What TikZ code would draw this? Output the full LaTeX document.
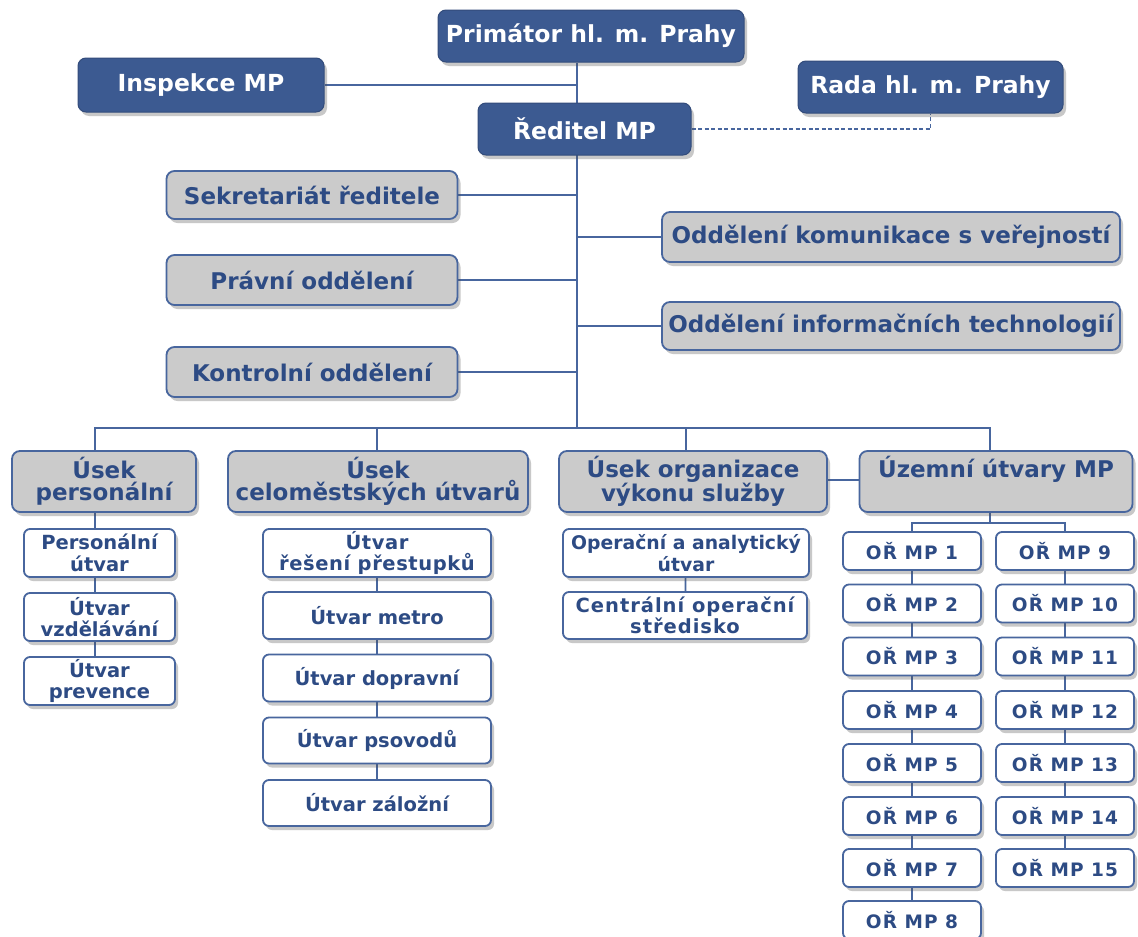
\documentclass[tikz,border=0pt]{standalone}
\usepackage{fontspec}
\setmainfont{DejaVu Sans}
\usetikzlibrary{shadows,backgrounds}
\definecolor{dblue}{RGB}{60,90,145}
\definecolor{tblue}{RGB}{45,75,132}
\definecolor{lgray}{RGB}{203,203,203}
\definecolor{lblue}{RGB}{72,102,158}
\begin{document}
\begin{tikzpicture}[x=1pt,y=-1pt,
  base/.style={rounded corners=8pt, inner sep=0pt, align=center,
    drop shadow={shadow xshift=3pt, shadow yshift=-4pt, opacity=0.3, fill=black!70}},
  topbox/.style={base, fill=dblue, draw=dblue!85!black, line width=1pt, text=white,
    font=\bfseries\fontsize{23.5}{26}\selectfont},
  graybox/.style={base, fill=lgray, draw=lblue, line width=1.8pt, text=tblue,
    font=\bfseries\fontsize{23}{22}\selectfont},
  whitebox/.style={base, rounded corners=6pt, fill=white, draw=lblue, line width=1.8pt, text=tblue,
    font=\bfseries\fontsize{19.5}{21.5}\selectfont},
  wide/.style={font=\bfseries\fontsize{19.5}{21.5}\selectfont\addfontfeatures{LetterSpace=#1}},
  orbox/.style={whitebox, minimum width=138, minimum height=38,
    font=\bfseries\fontsize{18.5}{21}\selectfont\addfontfeatures{LetterSpace=6}},
  conn/.style={draw=lblue, line width=1.7pt},
]
\useasboundingbox (0,0) rectangle (1138,937);

% top level
\node[topbox, minimum width=306, minimum height=52] (prim) at (591,36) {Primátor hl. m. Prahy};
\node[topbox, minimum width=246, minimum height=54] (insp) at (201,85) {Inspekce MP};
\node[topbox, minimum width=213, minimum height=52] (red) at (584.5,129) {Ředitel MP};
\node[topbox, minimum width=265, minimum height=52] (rada) at (930.5,87) {Rada hl. m. Prahy};

% staff departments
\node[graybox, minimum width=291, minimum height=48] (sek) at (312,195) {Sekretariát ředitele};
\node[graybox, minimum width=291, minimum height=50] (prav) at (312,280) {Právní oddělení};
\node[graybox, minimum width=291, minimum height=50] (kont) at (312,372) {Kontrolní oddělení};
\node[graybox, minimum width=458, minimum height=50] (kom) at (891,237) {Oddělení komunikace s veřejností};
\node[graybox, minimum width=458, minimum height=48] (inf) at (891,326) {Oddělení informačních technologií};

% sections
\node[graybox, minimum width=184, minimum height=61] (up) at (104,481.5) {Úsek\\personální};
\node[graybox, minimum width=300, minimum height=61] (uc) at (378,481.5) {Úsek\\celoměstských útvarů};
\node[graybox, minimum width=268, minimum height=61] (uo) at (693,481.5) {Úsek organizace\\výkonu služby};
\node[graybox, minimum width=273, minimum height=61] (uz) at (996,481.5) {Územní útvary MP\\\strut};

% children of personal section
\node[whitebox, minimum width=151, minimum height=48] (p1) at (99.5,553) {Personální\\útvar};
\node[whitebox, minimum width=151, minimum height=48] (p2) at (99.5,617) {Útvar\\vzdělávání};
\node[whitebox, minimum width=151, minimum height=48] (p3) at (99.5,681) {Útvar\\prevence};

% children of city-wide section
\node[whitebox, wide=3, minimum width=228, minimum height=48] (c1) at (377,553) {Útvar\\řešení přestupků};
\node[whitebox, minimum width=228, minimum height=47] (c2) at (377,615.5) {Útvar metro};
\node[whitebox, minimum width=228, minimum height=47] (c3) at (377,678) {Útvar dopravní};
\node[whitebox, minimum width=228, minimum height=46] (c4) at (377,740.5) {Útvar psovodů};
\node[whitebox, minimum width=228, minimum height=46] (c5) at (377,803) {Útvar záložní};

% children of organisation section
\node[whitebox, font=\bfseries\fontsize{18.8}{21.5}\selectfont, minimum width=246, minimum height=48] (o1) at (686,553) {Operační a analytický\\útvar};
\node[whitebox, wide=5, minimum width=244, minimum height=47] (o2) at (685,615.5) {Centrální operační\\středisko};

% territorial units
\foreach \i/\y in {1/551,2/603.5,3/656.5,4/710,5/763,6/816,7/868,8/920}
  \node[orbox] (or\i) at (912,\y) {OŘ MP \i};
\foreach \i/\y in {9/551,10/603.5,11/656.5,12/710,13/763,14/816,15/868}
  \node[orbox] (or\i) at (1065,\y) {OŘ MP \i};

% junction coordinates
\coordinate (bus) at (577,428);
\coordinate (dp) at (95,428);
\coordinate (dc) at (377,428);
\coordinate (do) at (686,428);
\coordinate (dz) at (990,428);
\coordinate (tz) at (990,523);

\begin{scope}[on background layer]
  \fill[white] (0,0) rectangle (1138,937);
  \draw[conn] (prim.south -| bus) -- (bus);
  \draw[conn] (insp.east) -- (insp.east -| bus);
  \draw[conn, dashed, dash pattern=on 4pt off 2.5pt, line width=1.3pt] (red.east) -- (red.east -| rada.south) -- (rada.south);
  \draw[conn] (sek.east) -- (sek.east -| bus);
  \draw[conn] (prav.east) -- (prav.east -| bus);
  \draw[conn] (kont.east) -- (kont.east -| bus);
  \draw[conn] (kom.west) -- (kom.west -| bus);
  \draw[conn] (inf.west) -- (inf.west -| bus);
  \draw[conn] (dp |- up.north) -- (dp) -- (dz) -- (dz |- uz.north);
  \draw[conn] (dc) -- (dc |- uc.north);
  \draw[conn] (do) -- (do |- uo.north);
  \draw[conn] (uo.east |- 0,480) -- (uz.west |- 0,480);
  \draw[conn] (dp |- up.south) -- (dp |- p3.north);
  \draw[conn] (c1.center) -- (c5.center);
  \draw[conn] (o1.center) -- (o2.center);
  \draw[conn] (uz.south -| tz) -- (tz);
  \draw[conn] (or1.center) -- (or1.center |- tz) -- (or9.center |- tz) -- (or9.center);
  \draw[conn] (or1.center) -- (or8.center);
  \draw[conn] (or9.center) -- (or15.center);
\end{scope}
\end{tikzpicture}
\end{document}
